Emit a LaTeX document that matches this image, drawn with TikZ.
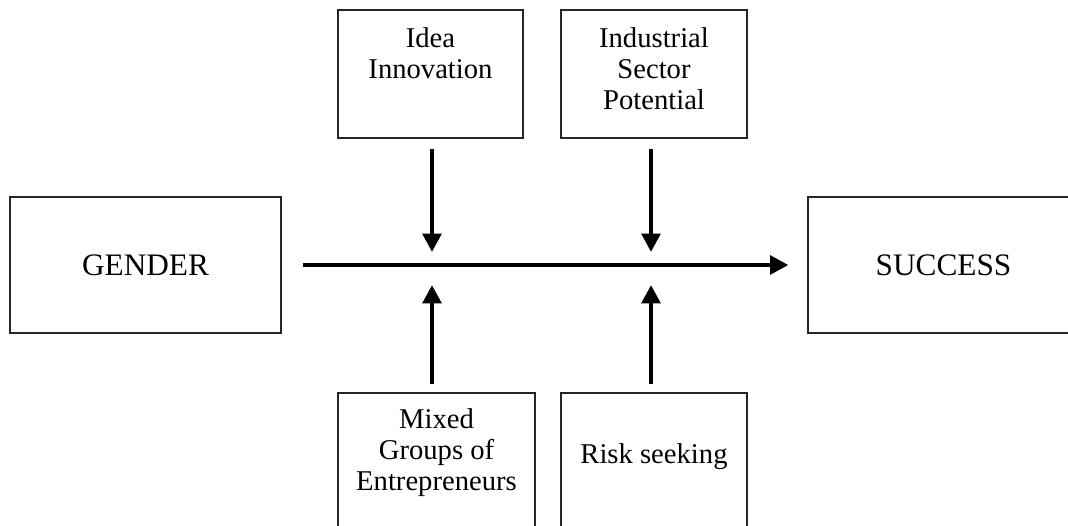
\documentclass[tikz,border=0pt]{standalone}
\usepackage{fontspec}
\setmainfont{Liberation Serif}
\usepackage{tikz}
\usetikzlibrary{arrows.meta,positioning,calc}
\tikzset{
    block/.style = {draw=black!85, rectangle, line width=0.6pt, inner sep=0},
    txt/.style = {inner sep=0, align=center, font=\fontsize{16.3}{17.6}\selectfont},
    big/.style = {inner sep=0, font=\fontsize{17.8}{19}\selectfont},
    arrow/.style = {draw, line width=2.6pt, -{Triangle[length=10.5pt,width=10.5pt]}}
}
\begin{document}
\begin{tikzpicture}[x=0.02cm,y=-0.02cm]
    \useasboundingbox (0,0) rectangle (1068,526);
    % outer blocks
    \node[block,minimum width=271*0.02cm,minimum height=136*0.02cm] (gender) at (145.5,265) {};
    \node[big] (gendertxt) at (gender) {GENDER};
    \node[block,minimum width=271*0.02cm,minimum height=136*0.02cm] (success) at (943.5,265) {};
    \node[big] (successtxt) at (success) {SUCCESS};
    % moderators above
    \node[block,minimum width=185*0.02cm,minimum height=128*0.02cm] (idea) at (430.5,74) {};
    \node[txt,anchor=north] (ideatxt) at (430.5,27) {Idea\\Innovation};
    \node[block,minimum width=186*0.02cm,minimum height=128*0.02cm] (sector) at (654,74) {};
    \node[txt,anchor=north] (sectortxt) at (654,27) {Industrial\\Sector\\Potential};
    % moderators below
    \node[block,minimum width=197*0.02cm,minimum height=134*0.02cm] (mixed) at (436.5,460) {};
    \node[txt,anchor=north] (mixedtxt) at (436.5,408) {Mixed\\Groups of\\Entrepreneurs};
    \node[block,minimum width=186*0.02cm,minimum height=134*0.02cm] (risk) at (654,460) {};
    \node[txt,anchor=north] (risktxt) at (654,443) {Risk seeking};
    % main path
    \coordinate (j1) at (432,268);
    \coordinate (j2) at (651,268);
    \draw[arrow,shorten <=0.42cm,shorten >=0.38cm] (gender) -- (success);
    \draw[arrow,shorten <=0.2cm,shorten >=0.32cm] (idea.south -| j1) -- (j1);
    \draw[arrow,shorten <=0.2cm,shorten >=0.32cm] (sector.south -| j2) -- (j2);
    \draw[arrow,shorten <=0.16cm,shorten >=0.34cm] (mixed.north -| j1) -- (j1);
    \draw[arrow,shorten <=0.16cm,shorten >=0.34cm] (risk.north -| j2) -- (j2);
\end{tikzpicture}
\end{document}
